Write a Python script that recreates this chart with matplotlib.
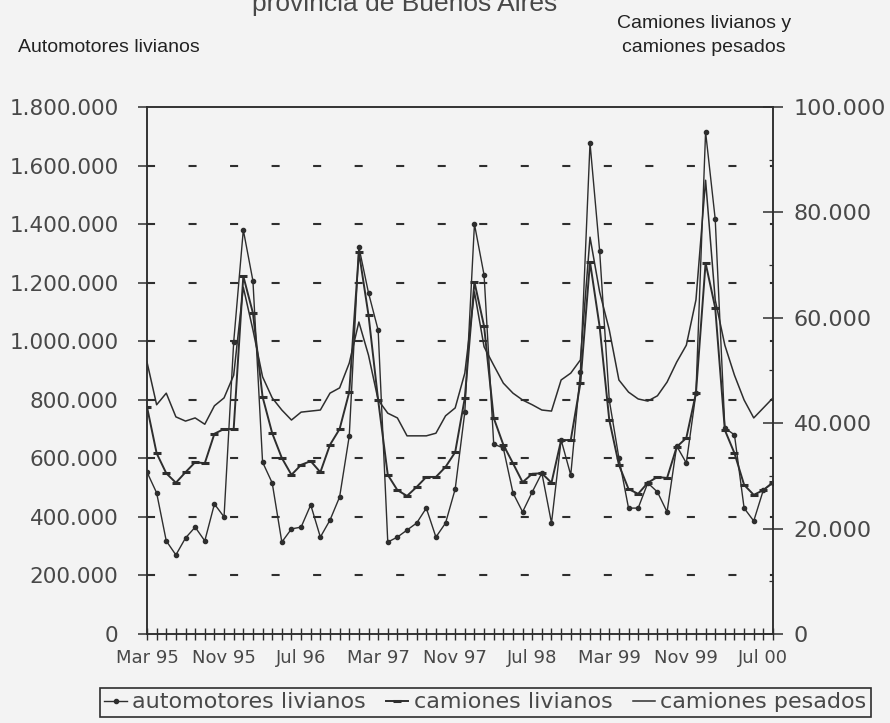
import numpy as np
import pandas as pd
import matplotlib
matplotlib.use("Agg")
import matplotlib.pyplot as plt
from matplotlib.ticker import FuncFormatter, MultipleLocator, FixedLocator

# meses: marzo 1995 a agosto 2000
meses = pd.date_range("1995-03-01", "2000-08-01", freq="MS")
etiquetas_x = ["Mar 95", "Nov 95", "Jul 96", "Mar 97", "Nov 97",
               "Jul 98", "Mar 99", "Nov 99", "Jul 00"]

# automotores livianos (miles, eje izquierdo)
automotores = [553, 482, 318, 270, 328, 365, 318, 444, 400, 997,
               1380, 1206, 587, 516, 314, 359, 365, 441, 331, 389,
               468, 676, 1322, 1165, 1038, 314, 331, 355, 379, 430,
               331, 379, 495, 758, 1400, 1226, 649, 635, 482, 417,
               485, 550, 379, 663, 543, 895, 1677, 1308, 799, 601,
               430, 430, 516, 485, 417, 642, 584, 823, 1715, 1417,
               704, 680, 430, 386, 492, 516]

# camiones livianos (miles, eje derecho)
camiones_livianos = [43.1, 34.3, 30.5, 28.7, 30.7, 32.6, 32.4, 38.0, 38.9, 38.9,
                     67.9, 60.9, 45.0, 38.1, 33.4, 30.2, 32.1, 32.8, 30.7, 35.9,
                     38.9, 45.9, 72.5, 60.5, 44.4, 30.2, 27.3, 26.2, 27.9, 29.8,
                     29.8, 31.7, 34.5, 44.8, 66.8, 58.4, 41.0, 35.9, 32.4, 28.8,
                     30.4, 30.5, 28.7, 36.8, 36.8, 47.6, 70.6, 58.3, 40.6, 32.1,
                     27.5, 26.6, 28.7, 29.8, 29.6, 35.5, 37.2, 45.7, 70.4, 61.9,
                     38.7, 34.3, 28.3, 26.4, 27.3, 28.8]

# camiones pesados (miles, eje derecho)
camiones_pesados = [51.6, 43.5, 45.7, 41.2, 40.4, 41.0, 39.8, 43.3, 44.8, 49.1,
                    65.8, 57.7, 48.8, 44.8, 42.5, 40.6, 42.1, 42.3, 42.5, 45.7,
                    46.7, 51.4, 59.2, 52.9, 44.4, 41.9, 41.0, 37.6, 37.6, 37.6,
                    38.1, 41.4, 42.9, 49.5, 64.9, 54.5, 51.0, 47.6, 45.7, 44.4,
                    43.5, 42.5, 42.3, 48.2, 49.5, 52.0, 75.3, 64.9, 57.7, 48.2,
                    45.9, 44.6, 44.2, 45.2, 47.8, 51.6, 54.8, 63.4, 86.1, 63.4,
                    54.8, 49.1, 44.4, 41.0, 42.9, 44.8]

tinta = "#2e2e2e"
fondo = "#f3f3f3"
texto = "#484848"

plt.rcParams["font.family"] = ["DejaVu Sans"]
plt.rcParams["lines.scale_dashes"] = False


def miles(v, pos):
    return f"{int(round(v)):,}".replace(",", ".")


fig = plt.figure(figsize=(8.9, 7.23), dpi=100, facecolor=fondo)
ax = fig.add_axes([147 / 890, 1 - 634 / 723, 626 / 890, 527 / 723])
ax.set_facecolor(fondo)
ax2 = ax.twinx()

x = np.arange(len(meses))
autos = np.array(automotores) * 1000
cliv = np.array(camiones_livianos) * 1000
cpes = np.array(camiones_pesados) * 1000

# lineas punteadas de referencia
for v in range(200000, 1800000, 200000):
    ax.axhline(v, color=tinta, lw=1.5, ls=(0, (5.8, 24.1)), zorder=1)

l1, = ax.plot(x, autos, color=tinta, lw=1.0, marker="o", ms=3.0, zorder=3)
l2, = ax2.plot(x, cliv, color=tinta, lw=1.4, marker="_", ms=6, mew=2.2, zorder=3)
l3, = ax2.plot(x, cpes, color=tinta, lw=1.1, zorder=3)

ax.set_xlim(0, len(meses) - 1)
ax.set_ylim(0, 1800000)
ax2.set_ylim(0, 100000)

ax.yaxis.set_major_locator(MultipleLocator(200000))
ax.yaxis.set_major_formatter(FuncFormatter(miles))
ax2.yaxis.set_major_locator(MultipleLocator(20000))
ax2.yaxis.set_minor_locator(MultipleLocator(10000))
ax2.yaxis.set_major_formatter(FuncFormatter(miles))

ax.xaxis.set_major_locator(FixedLocator(x[::8]))
ax.set_xticklabels(etiquetas_x)
ax.xaxis.set_minor_locator(FixedLocator(x))

for a in (ax, ax2):
    for s in a.spines.values():
        s.set_color(tinta)
        s.set_linewidth(1.1)

ax.tick_params(axis="y", direction="out", length=6.5, width=1.1, color=tinta,
               labelsize=15.5, labelcolor=texto, pad=14)
ax.tick_params(axis="x", which="both", direction="inout", length=8, width=1.0,
               color=tinta, labelsize=13, labelcolor=texto, pad=7)
ax2.tick_params(axis="y", which="major", direction="inout", length=14, width=1.1,
                color=tinta, labelsize=16, labelcolor=texto, pad=8)
ax2.tick_params(axis="y", which="minor", direction="in", length=3, width=0.9,
                color=tinta)

# textos
fig.text(405 / 890, 1 - 11 / 723, "provincia de Buenos Aires", ha="center",
         va="baseline", fontsize=19, family="Liberation Sans", color=texto)
fig.text(18 / 890, 1 - 52 / 723, "Automotores livianos", ha="left",
         va="baseline", fontsize=14, family="Liberation Sans", color="#222222")
fig.text(704 / 890, 1 - 28 / 723, "Camiones livianos y", ha="center",
         va="baseline", fontsize=14, family="Liberation Sans", color="#222222")
fig.text(704 / 890, 1 - 52 / 723, "camiones pesados", ha="center",
         va="baseline", fontsize=14, family="Liberation Sans", color="#222222")

leg = fig.legend([l1, l2, l3],
                 ["automotores livianos", "camiones livianos", "camiones pesados"],
                 loc="upper left", bbox_to_anchor=(100 / 890, 1 - 688 / 723),
                 ncol=3, fontsize=16, frameon=True, fancybox=False,
                 edgecolor=tinta, facecolor=fondo, framealpha=1,
                 handlelength=1.0, handletextpad=0.25, columnspacing=0.9,
                 borderpad=0.2, borderaxespad=0)
for t in leg.get_texts():
    t.set_color(texto)
leg.get_frame().set_linewidth(1.2)

fig.savefig("out.png", dpi=100, facecolor=fondo)
